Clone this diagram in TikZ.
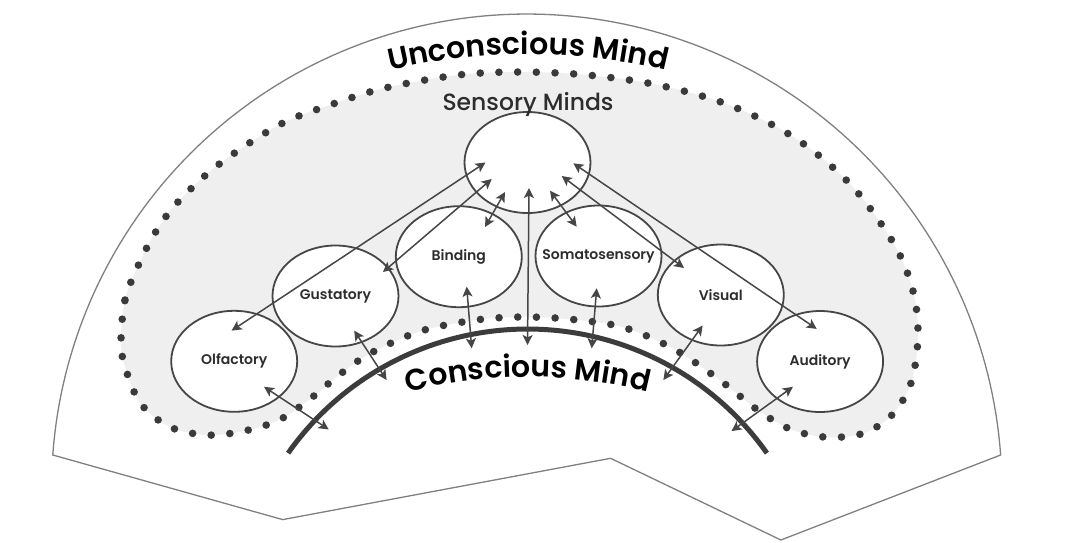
\documentclass[tikz,border=0pt]{standalone}
\usepackage{fontspec}
\setmainfont{Poppins}
\newfontfamily\popsemi{Poppins SemiBold}
\newfontfamily\popmed{Poppins Medium}
\usetikzlibrary{arrows.meta,decorations.text,shapes.geometric}

\definecolor{fangray}{RGB}{128,128,128}
\definecolor{bandgray}{RGB}{239,239,239}
\definecolor{dotgray}{RGB}{58,58,58}
\definecolor{arcgray}{RGB}{60,60,60}
\definecolor{linegray}{RGB}{70,70,70}
\definecolor{labelgray}{RGB}{45,45,45}

\begin{document}
\begin{tikzpicture}[x=1pt,y=-1pt,
  sense/.style={ellipse, draw=linegray, line width=1.8pt, fill=white,
    minimum width=126pt, minimum height=101pt, inner sep=0pt},
  sense label/.style={font=\popsemi\fontsize{14}{14}\selectfont, text=labelgray, inner sep=0pt},
  link/.style={line width=1.5pt, draw=linegray, {Stealth[length=10pt,width=10pt,inset=2.4pt]}-{Stealth[length=10pt,width=10pt,inset=2.4pt]}},
  dotted band/.style={fill=bandgray, draw=dotgray, line width=7.6pt, line cap=round,
    dash pattern=on 0pt off 18.7pt},
]
\useasboundingbox (0,0) rectangle (1068,542);

% fan-shaped outline with a torn lower edge
\filldraw[fill=white, draw=fangray, line width=1.3pt, line join=miter]
  plot[domain=4.13:175.87, samples=140] ({526.7-475.2*cos(\x)},{489.2-475.2*sin(\x)})
  -- (780.9,540) -- (610.6,458.3) -- (282.7,519.6) -- cycle;

% dotted band of the unconscious mind
\path[dotted band] plot[smooth cycle, tension=0.55] coordinates {
  (121,343) (125,300) (138,266) (155,233) (177,203) (218,165) (279,125)
  (330,105) (385,88) (458,75) (520,72) (587,75) (658,85) (729,105)
  (795,138) (851,185) (894,244) (913,291) (918,336) (911,383) (891,416)
  (861,434) (824,437) (790,429) (759,411) (717,378) (672,348) (622,327)
  (568,319) (520,317) (476,320) (421,331) (371,353) (339,375) (310,399)
  (279,420) (244,431) (207,435) (170,427) (141,404) (126,370)};

% boundary of the conscious mind
\draw[line width=5pt, draw=arcgray]
  plot[domain=35.2:144.8, samples=100] ({527.5-293*cos(\x)},{622-293*sin(\x)});

% sensory minds
\node[sense] (sens) at (527.5,162.5) {};
\node[sense, label={[sense label]center:Olfactory}]     (olf)  at (234.2,361.3) {};
\node[sense, label={[sense label]center:Gustatory}]     (gust) at (335.5,296)   {};
\node[sense, label={[sense label]center:Binding}]       (bind) at (458.8,256.7) {};
\node[sense, label={[sense label]center:Somatosensory}] (soma) at (598.5,256)   {};
\node[sense, label={[sense label]center:Visual}]        (vis)  at (720.8,295)   {};
\node[sense, label={[sense label]center:Auditory}]      (aud)  at (820.1,361.5) {};

\node[font=\popmed\fontsize{23.5}{23.5}\selectfont, text=labelgray, anchor=base] (senslbl)
  at (528,110.5) {Sensory Minds};

% ends of the arrows inside the conscious mind
\coordinate (cOlf)  at (328.7,429.4);
\coordinate (cGust) at (386.6,380);
\coordinate (cBind) at (471.7,348.3);
\coordinate (cMid)  at (527.5,345);
\coordinate (cSoma) at (591.7,348.3);
\coordinate (cVis)  at (663.4,380);
\coordinate (cAud)  at (731.5,431.1);

% links between the senses and the sensory minds
\draw[link] ([shift={(-2.6,-30.7)}]olf.center) -- ([shift={(-42,0)}]sens.center);
\draw[link] ([shift={(47.5,-24)}]gust.center) -- ([shift={(-35.8,16.5)}]sens.center);
\draw[link] ([shift={(26.2,-29.7)}]bind.center) -- ([shift={(-22.5,29.5)}]sens.center);
\draw[link] ([shift={(-21.8,-29.3)}]soma.center) -- ([shift={(22.5,28.2)}]sens.center);
\draw[link] ([shift={(-36.8,-27)}]vis.center) -- ([shift={(34.2,13.5)}]sens.center);
\draw[link] ([shift={(-3.4,-32.6)}]aud.center) -- ([shift={(45.8,0.8)}]sens.center);

% links down to the conscious mind
\draw[link] ([shift={(29.8,25.5)}]olf.center) -- (cOlf);
\draw[link] ([shift={(18.7,34.6)}]gust.center) -- (cGust);
\draw[link] ([shift={(7.9,30)}]bind.center) -- (cBind);
\draw[link] ([shift={(1.5,25.5)}]sens.center) -- (cMid);
\draw[link] ([shift={(-1.8,32.3)}]soma.center) -- (cSoma);
\draw[link] ([shift={(-18.2,30.5)}]vis.center) -- (cVis);
\draw[link] ([shift={(-27.2,25.3)}]aud.center) -- (cAud);

% curved titles
\path[decorate, decoration={text along path, text align=center,
    text={|\popsemi\fontsize{30}{30}\selectfont|Unconscious Mind}}]
  plot[domain=60:120, samples=80] ({528-590*cos(\x)},{644-590*sin(\x)});
\path[decorate, decoration={text along path, text align=center,
    text={|\popsemi\fontsize{30}{30}\selectfont|Conscious Mind}}]
  plot[domain=60:120, samples=80] ({528-480*cos(\x)},{857-480*sin(\x)});
\end{tikzpicture}
\end{document}
